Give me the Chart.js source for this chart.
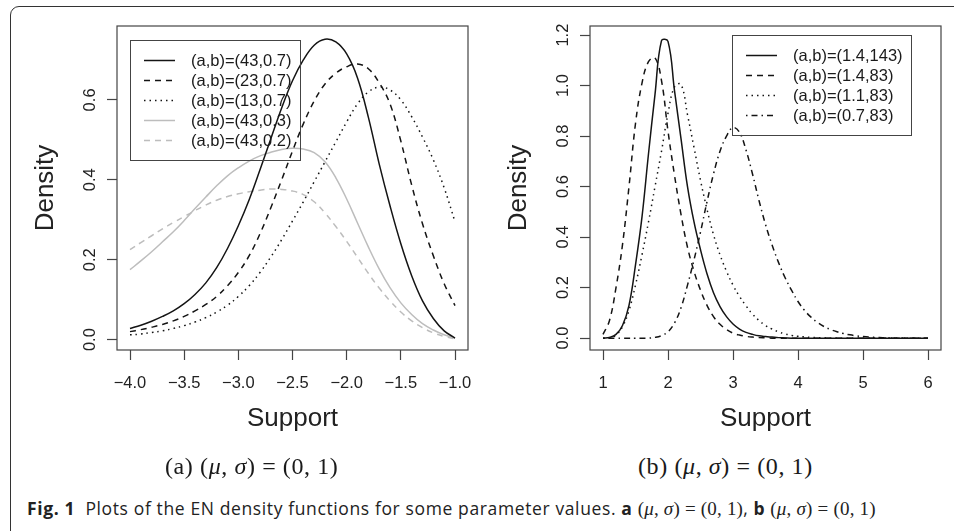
<!DOCTYPE html>
<html>
<head>
<meta charset="utf-8">
<script src="https://cdn.jsdelivr.net/npm/chart.js@4.4.1/dist/chart.umd.min.js"></script>
<style>
html, body { margin: 0; padding: 0; background: #fff; }
body { position: relative; width: 954px; height: 531px; overflow: hidden; font-family: "Liberation Sans", Arial, sans-serif; color: #1a1a1a; }
#frame { position: absolute; left: 10px; top: 6px; width: 1000px; height: 600px; border: 1.5px solid #333; border-radius: 9px; box-sizing: border-box; }
canvas { position: absolute; top: 0; }
.legend { position: absolute; border: 1.2px solid #444; box-sizing: border-box; }
.legend .row { position: absolute; left: 13px; height: 20px; line-height: 20px; font-size: 16.5px; white-space: nowrap; }
.legend svg { vertical-align: top; }
.sub { position: absolute; top: 453px; font-family: "Liberation Serif", serif; font-size: 24px; letter-spacing: 0.6px; white-space: nowrap; }
#caption { position: absolute; left: 27px; top: 496px; font-family: "Open Sans", sans-serif; font-size: 17.5px; letter-spacing: 0.62px; white-space: nowrap; color: #222; }
.m { font-family: "Liberation Serif", serif; font-size: 19px; letter-spacing: 0.2px; }
</style>
</head>
<body>
<div id="frame"></div>
<canvas id="chartB" width="474" height="450" style="left:480px"></canvas>
<canvas id="chartA" width="487" height="450" style="left:0"></canvas>
<div id="legendA" class="legend" style="left:130px; top:40px; width:171px; height:121px"></div>
<div id="legendB" class="legend" style="left:732px; top:35px; width:180px; height:101px"></div>
<div class="sub" style="left:165px">(a) (<i>μ</i>, <i>σ</i>) = (0, 1)</div>
<div class="sub" style="left:638px">(b) (<i>μ</i>, <i>σ</i>) = (0, 1)</div>
<div id="caption"><b>Fig. 1</b>&nbsp; Plots of the EN density functions for some parameter values. <b>a</b> <span class="m">(<i>μ</i>, <i>σ</i>) = (0, 1)</span>, <b>b</b> <span class="m">(<i>μ</i>, <i>σ</i>) = (0, 1)</span></div>
<script>
// Panel (a) data
const xa = [-4.0, -3.9, -3.8, -3.7, -3.6, -3.5, -3.4, -3.3, -3.2, -3.1, -3.0, -2.9, -2.8, -2.7, -2.6, -2.5,
  -2.4, -2.3, -2.2, -2.1, -2.0, -1.9, -1.8, -1.7, -1.6, -1.5, -1.4, -1.3, -1.2, -1.1, -1.0];
const ya_43_07 = [0.028, 0.036, 0.046, 0.058, 0.072, 0.090, 0.113, 0.142, 0.180, 0.228, 0.285, 0.350, 0.425, 0.503, 0.580, 0.648,
  0.700, 0.737, 0.752, 0.745, 0.715, 0.655, 0.557, 0.440, 0.335, 0.240, 0.160, 0.097, 0.053, 0.022, 0.004];
const ya_23_07 = [0.020, 0.025, 0.031, 0.038, 0.047, 0.058, 0.072, 0.088, 0.108, 0.135, 0.168, 0.210, 0.265, 0.330, 0.400, 0.472,
  0.540, 0.597, 0.640, 0.667, 0.683, 0.690, 0.678, 0.643, 0.590, 0.497, 0.387, 0.290, 0.210, 0.140, 0.085];
const ya_13_07 = [0.012, 0.014, 0.018, 0.022, 0.028, 0.035, 0.044, 0.055, 0.069, 0.086, 0.108, 0.135, 0.168, 0.207, 0.250, 0.297,
  0.345, 0.395, 0.445, 0.495, 0.545, 0.590, 0.620, 0.632, 0.625, 0.600, 0.558, 0.507, 0.450, 0.380, 0.295];
const ya_43_03 = [0.175, 0.197, 0.220, 0.245, 0.270, 0.298, 0.328, 0.357, 0.385, 0.410, 0.430, 0.447, 0.460, 0.469, 0.476, 0.479,
  0.477, 0.468, 0.445, 0.405, 0.352, 0.292, 0.232, 0.177, 0.130, 0.092, 0.063, 0.040, 0.024, 0.012, 0.004];
const ya_43_02 = [0.225, 0.243, 0.260, 0.277, 0.293, 0.308, 0.323, 0.337, 0.349, 0.358, 0.365, 0.370, 0.374, 0.377, 0.376, 0.372,
  0.363, 0.345, 0.317, 0.283, 0.246, 0.206, 0.166, 0.129, 0.097, 0.069, 0.047, 0.030, 0.017, 0.008, 0.002];
const labelsA = ['(a,b)=(43,0.7)', '(a,b)=(23,0.7)', '(a,b)=(13,0.7)', '(a,b)=(43,0.3)', '(a,b)=(43,0.2)'];
const xaTicks = [-4.0, -3.5, -3.0, -2.5, -2.0, -1.5, -1.0];
const xaTickLabels = ['\u22124.0', '\u22123.5', '\u22123.0', '\u22122.5', '\u22122.0', '\u22121.5', '\u22121.0'];
const yaTicks = [0, 0.2, 0.4, 0.6];
const yaTickLabels = ['0.0', '0.2', '0.4', '0.6'];

// Panel (b) data
const xb = [1.0, 1.1, 1.2, 1.3, 1.4, 1.5, 1.6, 1.7, 1.8, 1.9, 2.0, 2.1, 2.2, 2.3, 2.4, 2.5, 2.6, 2.7, 2.8, 2.9,
  3.0, 3.1, 3.2, 3.3, 3.4, 3.5, 3.6, 3.7, 3.8, 3.9, 4.0, 4.1, 4.2, 4.3, 4.4, 4.5, 4.6, 4.7, 4.8, 4.9,
  5.0, 5.1, 5.2, 5.3, 5.4, 5.5, 5.6, 5.7, 5.8, 5.9, 6.0];
const yb_14_143 = [0.000, 0.003, 0.015, 0.050, 0.130, 0.290, 0.480, 0.730, 0.965, 1.178, 1.175, 0.980, 0.790, 0.600, 0.460, 0.350, 0.255, 0.180, 0.125, 0.085,
  0.056, 0.036, 0.023, 0.015, 0.009, 0.006, 0.004, 0.002, 0.001, 0, 0, 0, 0, 0, 0, 0, 0, 0, 0, 0,
  0, 0, 0, 0, 0, 0, 0, 0, 0, 0, 0];
const yb_14_83 = [0.015, 0.070, 0.200, 0.370, 0.600, 0.850, 1.010, 1.095, 1.110, 1.020, 0.820, 0.645, 0.490, 0.360, 0.265, 0.190, 0.130, 0.085, 0.055, 0.034,
  0.020, 0.012, 0.007, 0.004, 0.002, 0.001, 0, 0, 0, 0, 0, 0, 0, 0, 0, 0, 0, 0, 0, 0,
  0, 0, 0, 0, 0, 0, 0, 0, 0, 0, 0];
const yb_11_83 = [0.000, 0.002, 0.012, 0.045, 0.110, 0.210, 0.330, 0.460, 0.600, 0.740, 0.890, 0.995, 1.005, 0.885, 0.755, 0.625, 0.510, 0.410, 0.330, 0.265,
  0.210, 0.165, 0.128, 0.095, 0.070, 0.050, 0.036, 0.025, 0.017, 0.011, 0.007, 0.005, 0.003, 0.002, 0.001, 0, 0, 0, 0, 0,
  0, 0, 0, 0, 0, 0, 0, 0, 0, 0, 0];
const yb_07_83 = [0, 0, 0, 0, 0, 0, 0, 0, 0.003, 0.010, 0.025, 0.060, 0.120, 0.210, 0.310, 0.420, 0.540, 0.650, 0.740, 0.800,
  0.834, 0.815, 0.745, 0.650, 0.545, 0.450, 0.370, 0.300, 0.240, 0.190, 0.145, 0.110, 0.083, 0.062, 0.046, 0.034, 0.025, 0.018, 0.013, 0.009,
  0.006, 0.004, 0.003, 0.002, 0.001, 0, 0, 0, 0, 0, 0];
const labelsB = ['(a,b)=(1.4,143)', '(a,b)=(1.4,83)', '(a,b)=(1.1,83)', '(a,b)=(0.7,83)'];
const xbTicks = [1, 2, 3, 4, 5, 6];
const xbTickLabels = ['1', '2', '3', '4', '5', '6'];
const ybTicks = [0, 0.2, 0.4, 0.6, 0.8, 1.0, 1.2];
const ybTickLabels = ['0.0', '0.2', '0.4', '0.6', '0.8', '1.0', '1.2'];

// Line styles (R lty 1..4)
const SOLID = [], DASHED = [6, 5], DOTTED = [1.5, 4], DOTDASH = [1.5, 4, 6, 4];
const BLACK = '#141414', GREY = '#bdbdbd';

Chart.defaults.font.family = '"Liberation Sans", Arial, sans-serif';
Chart.defaults.color = '#222';

// Box around plot region
const boxPlugin = {
  id: 'box',
  afterDraw(chart) {
    const { ctx, chartArea: a } = chart;
    ctx.save();
    ctx.strokeStyle = '#444';
    ctx.lineWidth = 1.2;
    ctx.strokeRect(a.left, a.top, a.right - a.left, a.bottom - a.top);
    ctx.restore();
  }
};

function makeChart(id, cfg) {
  const datasets = cfg.series.map((ys, i) => ({
    label: cfg.labels[i],
    data: cfg.xs.map((x, j) => ({ x: x, y: ys[j] })),
    borderColor: cfg.colors[i],
    borderDash: cfg.dashes[i],
    borderWidth: 1.5,
    pointRadius: 0,
    tension: 0.4,
    fill: false
  }));
  return new Chart(document.getElementById(id), {
    type: 'line',
    data: { datasets: datasets },
    options: {
      responsive: false,
      animation: false,
      devicePixelRatio: 1,
      layout: { padding: { left: 0, top: 26, right: cfg.padRight, bottom: 0 } },
      plugins: { legend: { display: false }, tooltip: { enabled: false } },
      scales: {
        x: {
          type: 'linear',
          min: cfg.xMin, max: cfg.xMax,
          afterBuildTicks: s => { s.ticks = cfg.xTicks.map(v => ({ value: v })); },
          afterFit: s => { s.height = 100; },
          grid: { drawOnChartArea: false, tickLength: 10, tickColor: '#444', tickWidth: 1.2 },
          border: { display: false },
          ticks: { callback: (v, i) => cfg.xTickLabels[i], autoSkip: false, maxRotation: 0, padding: 14, font: { size: 16.5 }, color: '#222' },
          title: { display: true, text: 'Support', font: { size: 26 }, color: '#222', padding: { top: 0, bottom: 16 } }
        },
        y: {
          type: 'linear',
          min: cfg.yMin, max: cfg.yMax,
          afterBuildTicks: s => { s.ticks = cfg.yTicks.map(v => ({ value: v })); },
          afterFit: s => { s.width = cfg.yWidth; },
          grid: { drawOnChartArea: false, tickLength: 10, tickColor: '#444', tickWidth: 1.2 },
          border: { display: false },
          ticks: { callback: (v, i) => cfg.yTickLabels[i], minRotation: 90, maxRotation: 90, crossAlign: 'center', padding: 5, font: { size: 16.5 }, color: '#222' },
          title: { display: true, text: 'Density', font: { size: 26 }, color: '#222', padding: { top: cfg.yTitlePad, bottom: 0 } }
        }
      }
    },
    plugins: [boxPlugin]
  });
}

function buildLegend(id, labels, colors, dashes) {
  const el = document.getElementById(id);
  labels.forEach((text, i) => {
    const row = document.createElement('div');
    row.className = 'row';
    row.style.top = (9 + i * 20) + 'px';
    const dash = dashes[i].length ? dashes[i].join(' ') : 'none';
    row.innerHTML = '<svg width="32" height="20"><line x1="0" y1="10.5" x2="31" y2="10.5" stroke="' + colors[i] +
      '" stroke-width="1.5" stroke-dasharray="' + dash + '"/></svg><span style="margin-left:15px">' + text + '</span>';
    el.appendChild(row);
  });
}

const colorsA = [BLACK, BLACK, BLACK, GREY, GREY];
const dashesA = [SOLID, DASHED, DOTTED, SOLID, DASHED];
makeChart('chartA', {
  xs: xa, series: [ya_43_07, ya_23_07, ya_13_07, ya_43_03, ya_43_02],
  labels: labelsA, colors: colorsA, dashes: dashesA,
  xMin: -4.12, xMax: -0.88, yMin: -0.026, yMax: 0.785,
  xTicks: xaTicks, xTickLabels: xaTickLabels, yTicks: yaTicks, yTickLabels: yaTickLabels,
  yWidth: 117, padRight: 19, yTitlePad: 30
});
buildLegend('legendA', labelsA, colorsA, dashesA);

const colorsB = [BLACK, BLACK, BLACK, BLACK];
const dashesB = [SOLID, DASHED, DOTTED, DOTDASH];
makeChart('chartB', {
  xs: xb, series: [yb_14_143, yb_14_83, yb_11_83, yb_07_83],
  labels: labelsB, colors: colorsB, dashes: dashesB,
  xMin: 0.8, xMax: 6.2, yMin: -0.047, yMax: 1.236,
  xTicks: xbTicks, xTickLabels: xbTickLabels, yTicks: ybTicks, yTickLabels: ybTickLabels,
  yWidth: 110, padRight: 13, yTitlePad: 23
});
buildLegend('legendB', labelsB, colorsB, dashesB);
</script>
</body>
</html>
